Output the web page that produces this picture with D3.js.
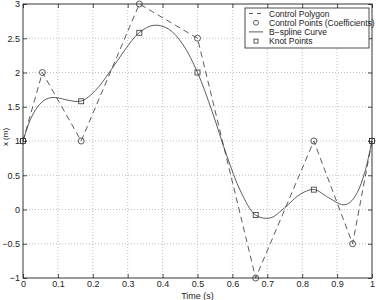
<!DOCTYPE html>
<html>
<head>
<meta charset="utf-8">
<script src="https://cdn.jsdelivr.net/npm/d3@7"></script>
<style>
  html, body { margin: 0; padding: 0; background: #fff; }
  svg { display: block; font-family: 'Liberation Sans', Arial, sans-serif; }
</style>
</head>
<body>
<div id="chart"></div>
<script>
// control polygon (coefficients)
const ctrlT = [0, 0.0556, 0.1667, 0.3333, 0.5, 0.6667, 0.8333, 0.9444, 1];
const ctrlX = [1, 2, 1, 3, 2.5, -1, 1, -0.5, 1];

// knot points on the curve
const knotT = [0, 0.1667, 0.3333, 0.5, 0.6667, 0.8333, 1];
const knotX = [1, 1.58, 2.58, 2, -0.08, 0.29, 1];

// B-spline curve, values
const curveT = [0, 0.021, 0.042, 0.0625, 0.083, 0.104, 0.125, 0.1667, 0.208, 0.25, 0.292, 0.3333,
  0.375, 0.417, 0.458, 0.5, 0.542, 0.583, 0.625, 0.6667, 0.708, 0.75, 0.792, 0.8333,
  0.875, 0.917, 0.9375, 0.958, 0.979, 1];
const curveX = [1, 1.31, 1.50, 1.60, 1.635, 1.626, 1.60, 1.583, 1.74, 2.02, 2.33, 2.583,
  2.69, 2.635, 2.41, 2, 1.43, 0.80, 0.25, -0.083, -0.124, 0.026, 0.215, 0.292,
  0.174, 0.068, 0.106, 0.25, 0.537, 1];

const xTicks = [0, 0.1, 0.2, 0.3, 0.4, 0.5, 0.6, 0.7, 0.8, 0.9, 1];
const yTicks = [-1, -0.5, 0, 0.5, 1, 1.5, 2, 2.5, 3];
const legendLabels = ['Control Polygon', 'Control Points (Coefficients)', 'B\u2212spline Curve', 'Knot Points'];

(function () {
  const W = 376, H = 300;
  const pL = 23, pR = 372, pT = 4, pB = 278;
  const ink = '#222';

  const svg = d3.select('#chart').append('svg').attr('width', W).attr('height', H);
  svg.append('rect').attr('width', W).attr('height', H).attr('fill', '#fff');

  const x = d3.scaleLinear().domain([0, 1]).range([pL, pR]);
  const y = d3.scaleLinear().domain([-1, 3]).range([pB, pT]);

  // grid
  const grid = svg.append('g').attr('stroke', '#b0b0b0').attr('stroke-width', 0.8).attr('stroke-dasharray', '1 2');
  grid.selectAll('.gx').data(xTicks.slice(1, -1)).enter().append('line')
    .attr('x1', d => x(d)).attr('x2', d => x(d)).attr('y1', pT).attr('y2', pB);
  grid.selectAll('.gy').data(yTicks.slice(1, -1)).enter().append('line')
    .attr('y1', d => y(d)).attr('y2', d => y(d)).attr('x1', pL).attr('x2', pR);

  // axes (matlab style: inward ticks all round)
  function styleAxis(g) {
    g.select('.domain').remove();
    g.selectAll('line').attr('stroke', ink).attr('stroke-width', 0.8);
    g.selectAll('text').style('font-size', '9px').attr('fill', ink);
  }
  svg.append('g').attr('transform', `translate(0,${pB})`)
    .call(d3.axisBottom(x).tickValues(xTicks).tickSize(-4).tickPadding(3).tickFormat(d3.format('~g')))
    .call(styleAxis);
  svg.append('g').attr('transform', `translate(0,${pT})`)
    .call(d3.axisTop(x).tickValues(xTicks).tickSize(-4).tickFormat(''))
    .call(styleAxis);
  svg.append('g').attr('transform', `translate(${pL},0)`)
    .call(d3.axisLeft(y).tickValues(yTicks).tickSize(-4).tickPadding(3).tickFormat(d => d3.format('~g')(d).replace('-', '\u2212')))
    .call(styleAxis);
  svg.append('g').attr('transform', `translate(${pR},0)`)
    .call(d3.axisRight(y).tickValues(yTicks).tickSize(-4).tickFormat(''))
    .call(styleAxis);
  svg.append('rect').attr('x', pL).attr('y', pT).attr('width', pR - pL).attr('height', pB - pT)
    .attr('fill', 'none').attr('stroke', ink).attr('stroke-width', 0.9);

  // axis labels
  svg.append('text').attr('x', (pL + pR) / 2).attr('y', 299).attr('text-anchor', 'middle')
    .style('font-size', '9px').attr('fill', ink).text('Time (s)');
  svg.append('text').attr('transform', 'translate(8,137) rotate(-90)').attr('text-anchor', 'middle')
    .style('font-size', '8px').attr('fill', ink).text('x (m)');

  const ctrl = ctrlT.map((t, i) => ({ t, v: ctrlX[i] }));
  const knots = knotT.map((t, i) => ({ t, v: knotX[i] }));
  const curve = curveT.map((t, i) => ({ t, v: curveX[i] }));

  // control polygon
  svg.append('path').datum(ctrl).attr('fill', 'none').attr('stroke', '#333').attr('stroke-width', 0.8)
    .attr('stroke-dasharray', '6 4')
    .attr('d', d3.line().x(d => x(d.t)).y(d => y(d.v)));

  // b-spline curve
  svg.append('path').datum(curve).attr('fill', 'none').attr('stroke', '#333').attr('stroke-width', 0.8)
    .attr('d', d3.line().x(d => x(d.t)).y(d => y(d.v)).curve(d3.curveCatmullRom.alpha(0.5)));

  // control points
  svg.selectAll('.cp').data(ctrl).enter().append('circle')
    .attr('cx', d => x(d.t)).attr('cy', d => y(d.v)).attr('r', 3)
    .attr('fill', 'none').attr('stroke', '#333').attr('stroke-width', 0.8);

  // knot points
  svg.selectAll('.kp').data(knots).enter().append('rect')
    .attr('x', d => x(d.t) - 2.5).attr('y', d => y(d.v) - 2.5).attr('width', 5).attr('height', 5)
    .attr('fill', 'none').attr('stroke', '#333').attr('stroke-width', 0.8);

  // legend
  const lg = svg.append('g').attr('transform', 'translate(245,8)');
  lg.append('rect').attr('width', 124).attr('height', 40).attr('fill', '#fff').attr('stroke', ink).attr('stroke-width', 0.8);
  legendLabels.forEach((lab, i) => {
    const yy = 5.5 + i * 9.2;
    if (i === 0) lg.append('line').attr('x1', 4).attr('x2', 18).attr('y1', yy).attr('y2', yy)
      .attr('stroke', '#333').attr('stroke-width', 0.8).attr('stroke-dasharray', '4 4');
    if (i === 1) lg.append('circle').attr('cx', 11).attr('cy', yy).attr('r', 2.5)
      .attr('fill', 'none').attr('stroke', '#333').attr('stroke-width', 0.8);
    if (i === 2) lg.append('line').attr('x1', 4).attr('x2', 18).attr('y1', yy).attr('y2', yy)
      .attr('stroke', '#333').attr('stroke-width', 0.8);
    if (i === 3) lg.append('rect').attr('x', 9).attr('y', yy - 2).attr('width', 4).attr('height', 4)
      .attr('fill', 'none').attr('stroke', '#333').attr('stroke-width', 0.8);
    lg.append('text').attr('x', 24).attr('y', yy + 3).style('font-size', '8.5px').attr('fill', ink).text(lab);
  });
})();
</script>
</body>
</html>
